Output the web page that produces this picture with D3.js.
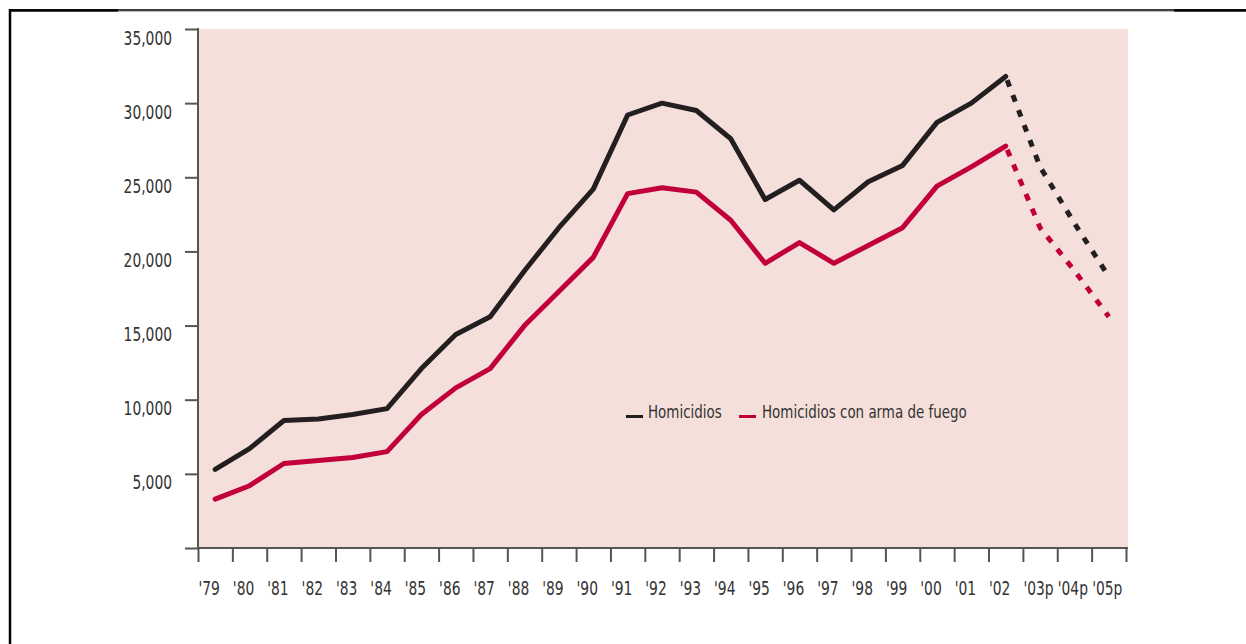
<!DOCTYPE html>
<html><head><meta charset="utf-8">
<script src="https://cdn.jsdelivr.net/npm/d3@7"></script>
<style>
body{margin:0;background:#fff}
svg text{font-family:'DejaVu Sans Condensed','DejaVu Sans',sans-serif;font-stretch:condensed;fill:#333}
</style>
</head><body>
<svg id="c" width="1246" height="644"></svg>
<script>
const years = ["'79","'80","'81","'82","'83","'84","'85","'86","'87","'88","'89","'90","'91","'92","'93","'94","'95","'96","'97","'98","'99","'00","'01","'02","'03p","'04p","'05p"];
const homicidios = [5300,6700,8600,8700,9000,9400,12100,14400,15600,18700,21600,24200,29200,30000,29500,27600,23500,24800,22800,24700,25800,28700,30000,31800,25700,21900,18300];
const conArma = [3300,4200,5700,5900,6100,6500,9000,10800,12100,15000,17300,19600,23900,24300,24000,22100,19200,20600,19200,20400,21600,24400,25700,27100,21600,18700,15600];
const yTicks = [0,5000,10000,15000,20000,25000,30000,35000];
const seriesNames = ["Homicidios","Homicidios con arma de fuego"];
const seriesColors = ["#231f20","#c1003b"];
const lastActual = 23; // index of '02, projections follow

const svg = d3.select("#c");
const L = 198, R = 1126, T = 29, B = 548;
const SX = 0.77; // horizontal squeeze for the condensed lettering
const x = d3.scaleLinear().domain([0, years.length]).range([L, R]);
const y = d3.scaleLinear().domain([0, 35000]).range([B, T]);

// frame
svg.append("line").attr("x1",10).attr("x2",10).attr("y1",9).attr("y2",644).attr("stroke","#000").attr("stroke-width",2.5);
svg.append("line").attr("x1",10).attr("x2",1246).attr("y1",10).attr("y2",10).attr("stroke","#000").attr("stroke-width",1.6);
svg.append("line").attr("x1",118).attr("x2",1174).attr("y1",11.5).attr("y2",11.5).attr("stroke","#bbb").attr("stroke-width",1);
svg.append("line").attr("x1",10).attr("x2",118).attr("y1",10.5).attr("y2",10.5).attr("stroke","#000").attr("stroke-width",2.5);
svg.append("line").attr("x1",1174).attr("x2",1246).attr("y1",10.5).attr("y2",10.5).attr("stroke","#000").attr("stroke-width",2.5);

// plot bg
svg.append("rect").attr("x",L).attr("y",T).attr("width",1128-L).attr("height",B-T).attr("fill","#f4dfda");

// y axis
const yAxis = svg.append("g").attr("transform",`translate(${L},0)`)
  .call(d3.axisLeft(y).tickValues(yTicks).tickSize(13).tickPadding(13)
    .tickFormat(d => d === 0 ? "" : d3.format(",")(d)));
yAxis.select(".domain").remove();
yAxis.selectAll(".tick line").attr("stroke","#555").attr("stroke-width",2);
yAxis.selectAll(".tick text").attr("dy",null).attr("y",15).attr("x",-26/SX)
  .attr("transform",`scale(${SX},1)`).style("font-size","20px").attr("fill","#333");
svg.append("line").attr("x1",L).attr("x2",L).attr("y1",T-1).attr("y2",B).attr("stroke","#555").attr("stroke-width",2);

// x axis
const xAxis = svg.append("g").attr("transform",`translate(0,${B})`)
  .call(d3.axisBottom(x).tickValues(d3.range(years.length+1)).tickSize(14)
    .tickFormat(i => years[i] || ""));
xAxis.select(".domain").remove();
xAxis.selectAll(".tick line").attr("stroke","#555").attr("stroke-width",2);
xAxis.selectAll(".tick text").attr("dy",null).attr("y",47).attr("text-anchor","start").attr("x",0)
  .attr("transform",`scale(${SX},1)`).style("font-size","20px").attr("fill","#333");
svg.append("line").attr("x1",L).attr("x2",1128).attr("y1",B).attr("y2",B).attr("stroke","#555").attr("stroke-width",2);

// lines
const line = d3.line().x(d => x(d.i + 0.5)).y(d => y(d.v));
[homicidios, conArma].forEach((vals, s) => {
  const pts = vals.map((v,i) => ({i, v}));
  svg.append("path").datum(pts.slice(0, lastActual+1)).attr("d", line)
    .attr("fill","none").attr("stroke",seriesColors[s]).attr("stroke-width",5)
    .attr("stroke-linejoin","round").attr("stroke-linecap","round");
  svg.append("path").datum(pts.slice(lastActual)).attr("d", line)
    .attr("fill","none").attr("stroke",seriesColors[s]).attr("stroke-width",5)
    .attr("stroke-dasharray","7,9").attr("stroke-dashoffset",-4);
});

// legend
const legendPos = [{dx:626, tx:648},{dx:739, tx:762}];
seriesNames.forEach((n, s) => {
  svg.append("line").attr("x1",legendPos[s].dx).attr("x2",legendPos[s].dx+17)
    .attr("y1",416.5).attr("y2",416.5).attr("stroke",seriesColors[s]).attr("stroke-width",3);
  svg.append("g").attr("transform",`translate(${legendPos[s].tx},418) scale(0.83,1)`)
    .append("text").text(n).style("font-size","18px").attr("fill","#333");
});
</script>
</body></html>
